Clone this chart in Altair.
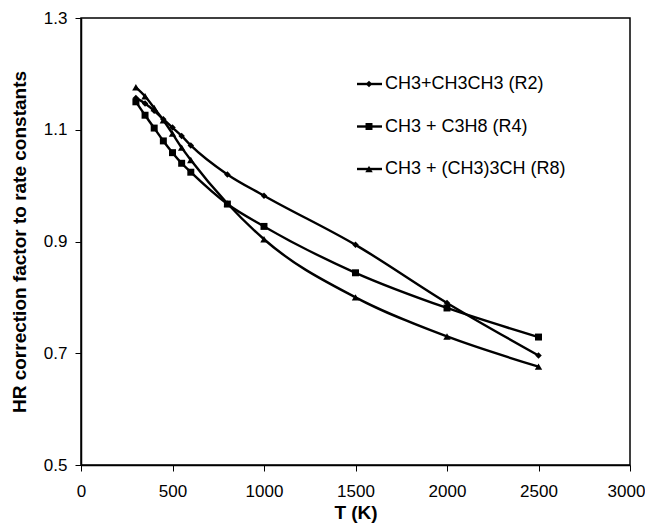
import altair as alt
import pandas as pd

T = [300, 350, 400, 450, 500, 550, 600, 800, 1000, 1500, 2000, 2500]
series_names = ["CH3+CH3CH3 (R2)", "CH3 + C3H8 (R4)", "CH3 + (CH3)3CH (R8)"]
r2 = [1.157, 1.147, 1.134, 1.119, 1.104, 1.089, 1.072, 1.020, 0.982, 0.894, 0.790, 0.696]
r4 = [1.150, 1.126, 1.103, 1.080, 1.059, 1.040, 1.024, 0.967, 0.927, 0.844, 0.781, 0.729]
r8 = [1.176, 1.160, 1.139, 1.117, 1.093, 1.068, 1.046, 0.968, 0.904, 0.800, 0.730, 0.676]
shapes = ["diamond", "square", "triangle-up"]
sizes = [42, 55, 60]
x_ticks = [0, 500, 1000, 1500, 2000, 2500, 3000]
y_ticks = [0.5, 0.7, 0.9, 1.1, 1.3]

rows = []
for name, vals in zip(series_names, [r2, r4, r8]):
    for t, v in zip(T, vals):
        rows.append({"T": t, "val": v, "series": name})
df = pd.DataFrame(rows)
leg = pd.DataFrame({"series": series_names, "rank": list(range(len(series_names)))})

FONT = "Liberation Sans"

x_enc = alt.X("T:Q", scale=alt.Scale(domain=[0, 3000], nice=False),
              axis=alt.Axis(values=x_ticks, format="d", title="T (K)", grid=False, tickSize=6,
                            labelPadding=12, labelFontSize=17, labelFont=FONT,
                            labelColor="black", titleFontSize=19, titleFont=FONT,
                            titleFontWeight="bold", titleColor="black",
                            titleBaseline="alphabetic", titleY=53,
                            domainColor="black", tickColor="black", domainWidth=1.5,
                            labelFlush=False,
                            labelOffset={"condition": {"test": "datum.value == 3000", "value": -4},
                                         "value": 0}))
y_enc = alt.Y("val:Q", scale=alt.Scale(domain=[0.5, 1.3], nice=False),
              axis=alt.Axis(values=y_ticks, format=".1f",
                            title="HR  correction factor to rate constants",
                            grid=False, tickSize=6, labelPadding=8, labelFontSize=17,
                            labelFont=FONT, labelColor="black", titleFontSize=19,
                            titleFont=FONT, titleFontWeight="bold", titleColor="black",
                            titleBaseline="alphabetic", titleX=-56,
                            domainColor="black", tickColor="black", domainWidth=1.5,
                            labelFlush=False))

shape_scale = alt.Scale(domain=series_names, range=shapes)
size_scale = alt.Scale(domain=series_names, range=sizes)

lines = alt.Chart(df).mark_line(interpolate="monotone", color="black", strokeWidth=2.4).encode(
    x=x_enc, y=y_enc, detail="series:N")
points = alt.Chart(df).mark_point(filled=True, color="black", opacity=1).encode(
    x="T:Q", y="val:Q",
    shape=alt.Shape("series:N", scale=shape_scale, legend=None),
    size=alt.Size("series:N", scale=size_scale, legend=None))
main = alt.layer(lines, points)

leg_y = alt.Y("rank:Q", scale=alt.Scale(domain=[0, 2], range=[66, 151], nice=False, zero=False),
              axis=None)
leg_rule = alt.Chart(leg).mark_rule(color="black", strokeWidth=2.4).encode(
    x=alt.value(276), x2=alt.value(301), y=leg_y)
leg_pt = alt.Chart(leg).mark_point(filled=True, color="black", opacity=1).encode(
    x=alt.value(288), y=leg_y,
    shape=alt.Shape("series:N", scale=shape_scale, legend=None),
    size=alt.Size("series:N", scale=size_scale, legend=None))
leg_txt = alt.Chart(leg).mark_text(align="left", baseline="middle", fontSize=18,
                                   font=FONT, color="black").encode(
    x=alt.value(304), y=leg_y, text="series:N")
legend = alt.layer(leg_rule, leg_pt, leg_txt)

chart = alt.layer(main, legend).resolve_scale(y="independent").properties(
    width=549, height=447,
    padding={"left": 73, "top": 10, "right": 15, "bottom": 58},
    autosize=alt.AutoSizeParams(type="none"),
    background="white",
).configure_view(stroke="black", strokeWidth=1.5)

chart.save("out.html", embed_options={"renderer": "svg", "actions": False})
